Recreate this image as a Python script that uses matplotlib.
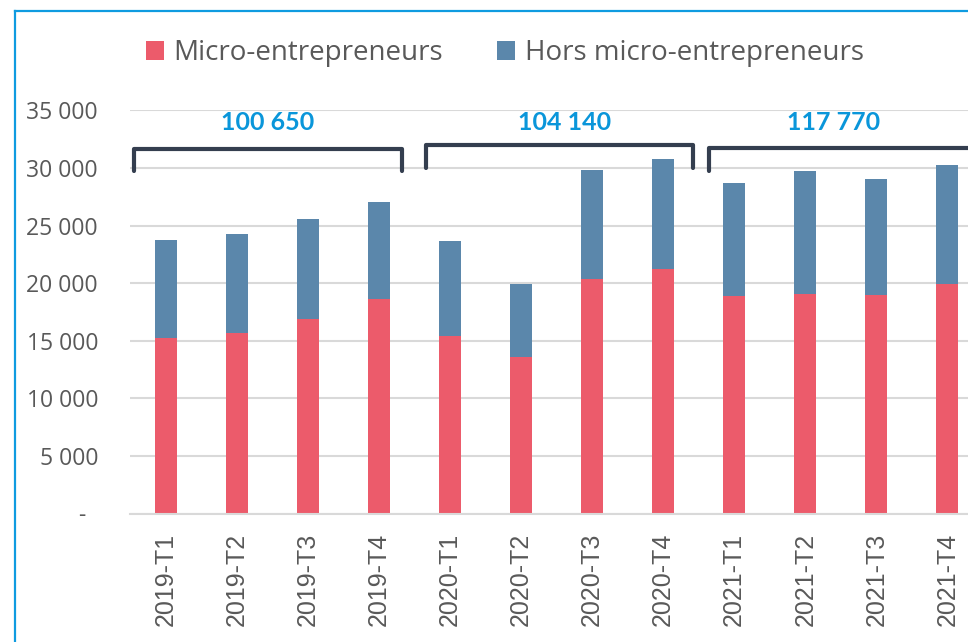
import matplotlib.pyplot as plt
from matplotlib.lines import Line2D
import numpy as np

quarters = ["2019-T1", "2019-T2", "2019-T3", "2019-T4",
            "2020-T1", "2020-T2", "2020-T3", "2020-T4",
            "2021-T1", "2021-T2", "2021-T3", "2021-T4"]
micro = [15260, 15700, 16850, 18640, 15440, 13620, 20380, 21240, 18900, 19080, 18960, 19880]
hors = [8520, 8520, 8730, 8430, 8200, 6260, 9450, 9550, 9800, 10690, 10110, 10350]
group_totals = [100650, 104140, 117770]

RED = "#EC5B6B"
BLUE = "#5B87AB"
GREY_TXT = "#595959"

W, H = 968, 642
fig = plt.figure(figsize=(W / 100, H / 100), dpi=100)
# axes run past the right edge: the reference is cropped there
ax = fig.add_axes([130 / W, (H - 513.5) / H, 853 / W, (513.5 - 110.3) / H])

x = np.arange(len(quarters))
b1 = ax.bar(x, micro, width=0.31, color=RED, label="Micro-entrepreneurs", zorder=2)
b2 = ax.bar(x, hors, width=0.31, bottom=micro, color=BLUE,
            label="Hors micro-entrepreneurs", zorder=2)

ax.set_xlim(-0.5, 11.5)
ax.set_ylim(0, 35000)
ax.set_yticks(np.arange(0, 35001, 5000))
ax.yaxis.set_major_formatter(
    plt.FuncFormatter(lambda v, p: "-  " if v == 0 else f"{int(v):,}".replace(",", " ")))
ax.set_xticks(x)
ax.set_xticklabels(quarters, rotation=90, fontsize=18, family="Liberation Sans", color=GREY_TXT)
for lab in ax.get_yticklabels():
    lab.set_family("Open Sans")
    lab.set_fontsize(16.5)
    lab.set_color(GREY_TXT)
ax.tick_params(axis="y", length=0, pad=23)
ax.tick_params(axis="x", length=0, pad=14)

ax.grid(axis="y", color="#D9D9D9", lw=1.5, zorder=0)
for s in ["top", "right", "left"]:
    ax.spines[s].set_visible(False)
ax.spines["bottom"].set_color("#D9D9D9")
ax.spines["bottom"].set_linewidth(1.5)

# brackets over each year with its total
spans = [(-0.45, 3.33, 29700, 31650), (3.66, 7.42, 30020, 31990), (7.64, 12.0, 29760, 31700)]
for (x0, x1, yb, yt), tot in zip(spans, group_totals):
    ax.plot([x0, x0, x1, x1], [yb, yt, yt, yb], color="#343E4F", lw=3,
            solid_joinstyle="round", solid_capstyle="round", clip_on=False, zorder=3)
label_x = [1.43, 5.61, 9.40]
for lx, tot in zip(label_x, group_totals):
    ax.text(lx, 33970, f"{tot:,}".replace(",", " "), ha="center", va="center",
            fontsize=18, fontweight="bold", family="Lato", color="#0A96DA")

ax.legend(handles=[b1, b2], loc="center", bbox_to_anchor=(505 / W, 1 - 53 / H),
          bbox_transform=fig.transFigure, ncol=2, frameon=False,
          prop={"family": "Open Sans", "size": 20}, labelcolor=GREY_TXT,
          handlelength=0.65, handleheight=0.65, handletextpad=0.33, columnspacing=1.95)

# blue frame (left and top edges visible in the crop)
fx, fy = 14.7 / W, 1 - 11 / H
fig.add_artist(Line2D([fx, fx], [0, fy], transform=fig.transFigure, color="#0F9BE0", lw=1.6))
fig.add_artist(Line2D([fx, 1], [fy, fy], transform=fig.transFigure, color="#0F9BE0", lw=1.6))

fig.savefig("out.png", dpi=100)
